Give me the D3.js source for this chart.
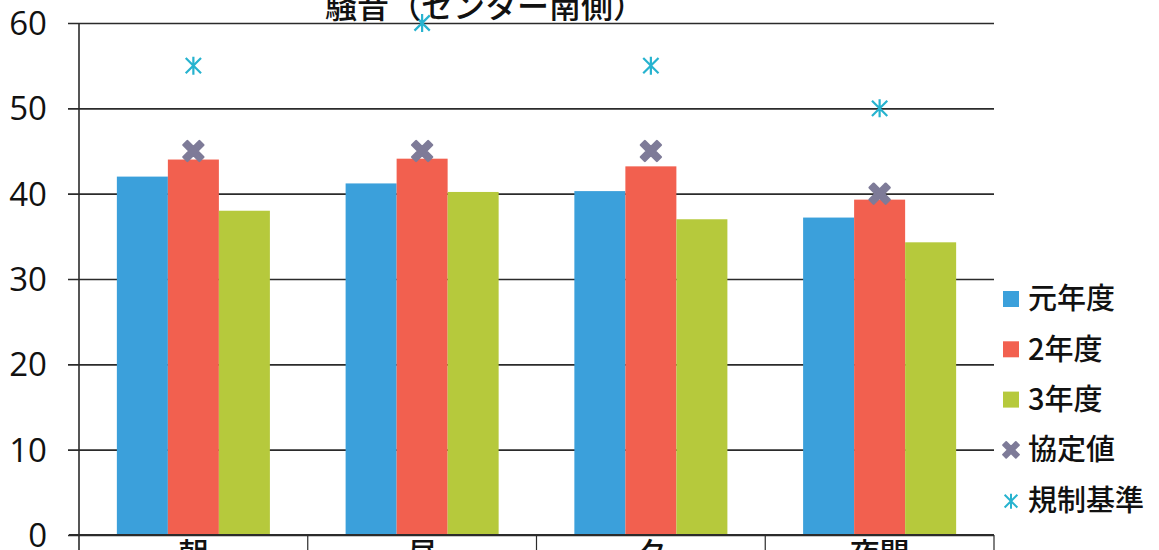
<!DOCTYPE html>
<html>
<head>
<meta charset="utf-8">
<script src="https://cdn.jsdelivr.net/npm/d3@7"></script>
<style>
  html, body { margin: 0; padding: 0; background: #fff; }
  svg { display: block; font-family: "Noto Sans CJK JP", "Noto Sans", sans-serif; }
</style>
</head>
<body>
<svg id="chart" width="1159" height="550"></svg>
<script>
// Noise levels at the south side of the center (dB)
const periods = ["朝", "昼", "夕", "夜間"];
const seriesNames = ["元年度", "2年度", "3年度"];
const year1 = [42.0, 41.2, 40.3, 37.2];
const year2 = [44.0, 44.1, 43.2, 39.3];
const year3 = [38.0, 40.2, 37.0, 34.3];
const agreedValue = [45, 45, 45, 40];
const regulationLimit = [55, 60, 55, 50];
const yTicks = [0, 10, 20, 30, 40, 50, 60];
const titleText = "騒音（センター南側）";
const legendLabels = ["元年度", "2年度", "3年度", "協定値", "規制基準"];

const barColors = ["#3ba0db", "#f2604f", "#b6c93c"];
const agreedColor = "#7e7b98";
const limitColor = "#27b3cf";
const lineColor = "#2b2b2b";

const svg = d3.select("#chart");
const W = 1159, H = 550;
const plot = { left: 79, right: 994, top: 23, bottom: 535 };

const y = d3.scaleLinear().domain([0, 60]).range([plot.bottom, plot.top]);
const x0 = d3.scaleBand().domain(periods).range([plot.left, plot.right])
  .paddingInner(0.331).paddingOuter(0.1655);
const x1 = d3.scaleBand().domain(seriesNames).range([0, x0.bandwidth()]);

const seriesValues = [year1, year2, year3];

// horizontal gridlines with small outward ticks
const yAxis = d3.axisLeft(y).tickValues(yTicks).tickSize(plot.right - plot.left + 11)
  .tickFormat(d => d).tickPadding(21);
const gy = svg.append("g").attr("transform", `translate(${plot.right},0)`).call(yAxis);
gy.select(".domain").remove();
gy.selectAll(".tick line").attr("stroke", lineColor).attr("stroke-width", 1.6);
gy.selectAll(".tick text")
  .attr("fill", "#111").attr("font-size", 33)
  .attr("font-family", "'Open Sans', 'Noto Sans', sans-serif")
  .attr("font-weight", 500)
  .attr("dy", "0.35em");

// vertical axis line
svg.append("line")
  .attr("x1", plot.left).attr("x2", plot.left)
  .attr("y1", plot.top).attr("y2", H)
  .attr("stroke", lineColor).attr("stroke-width", 1.6);

// bars
const groups = svg.append("g").selectAll("g")
  .data(periods).join("g")
  .attr("transform", d => `translate(${x0(d)},0)`);
seriesNames.forEach((name, si) => {
  groups.append("rect")
    .attr("x", x1(name))
    .attr("width", x1.bandwidth())
    .attr("y", (d, i) => y(seriesValues[si][i]))
    .attr("height", (d, i) => y(0) - y(seriesValues[si][i]))
    .attr("fill", barColors[si]);
});

// category axis with dividers between periods
svg.append("line")
  .attr("x1", plot.left - 10).attr("x2", plot.right)
  .attr("y1", plot.bottom).attr("y2", plot.bottom)
  .attr("stroke", lineColor).attr("stroke-width", 1.8);
const dividers = periods.map(p => x0(p) - x0.step() * x0.paddingInner() / 2 + x0.step());
svg.append("g").selectAll("line").data(dividers).join("line")
  .attr("x1", d => d).attr("x2", d => d)
  .attr("y1", plot.bottom).attr("y2", H)
  .attr("stroke", lineColor).attr("stroke-width", 1.2);
svg.append("g").selectAll("text").data(periods).join("text")
  .attr("x", d => x0(d) + x0.bandwidth() / 2)
  .attr("y", 564)
  .attr("text-anchor", "middle")
  .attr("font-size", 30)
  .attr("font-weight", 500)
  .attr("fill", "#111")
  .text(d => d);

// marker shapes
const crossPath = (s) => {
  // fat "X"
  const a = s / 2, t = s * 0.2;
  return `M${-a},${-a + t} L${-a + t},${-a} L0,${-t} L${a - t},${-a} L${a},${-a + t} L${t},0 ` +
         `L${a},${a - t} L${a - t},${a} L0,${t} L${-a + t},${a} L${-a},${a - t} L${-t},0 Z`;
};
const starPath = (s) => {
  const a = s / 2, b = a * 0.85;
  return `M${-b},${-b} L${b},${b} M${-b},${b} L${b},${-b} M0,${-a} L0,${a}`;
};

const cx = d => x0(d) + x0.bandwidth() / 2;

svg.append("g").selectAll("path").data(periods).join("path")
  .attr("transform", (d, i) => `translate(${cx(d)},${y(agreedValue[i])})`)
  .attr("d", crossPath(20))
  .attr("fill", agreedColor)
  .attr("stroke", agreedColor).attr("stroke-width", 2.4).attr("stroke-linejoin", "round");

svg.append("g").selectAll("path").data(periods).join("path")
  .attr("transform", (d, i) => `translate(${cx(d)},${y(regulationLimit[i])})`)
  .attr("d", starPath(18))
  .attr("fill", "none")
  .attr("stroke", limitColor).attr("stroke-width", 2.2);

// title (partly above the visible area)
svg.append("text")
  .attr("x", 325).attr("y", 18)
  .attr("text-anchor", "start")
  .attr("font-size", 32)
  .attr("font-weight", 500)
  .attr("fill", "#111")
  .text(titleText);

// legend
const legend = svg.append("g").attr("transform", "translate(1003,299)");
const rowGap = 50.3;
legendLabels.forEach((label, i) => {
  const g = legend.append("g").attr("transform", `translate(0,${i * rowGap})`);
  if (i < 3) {
    g.append("rect").attr("x", 0).attr("y", -8).attr("width", 16).attr("height", 16)
      .attr("fill", barColors[i]);
  } else if (i === 3) {
    g.append("path").attr("transform", "translate(8,0)").attr("d", crossPath(16))
      .attr("fill", agreedColor).attr("stroke", agreedColor).attr("stroke-width", 1.8)
      .attr("stroke-linejoin", "round");
  } else {
    g.append("path").attr("transform", "translate(8,1)").attr("d", starPath(15))
      .attr("fill", "none").attr("stroke", limitColor).attr("stroke-width", 2);
  }
  g.append("text").attr("x", 25).attr("y", 0).attr("dy", "0.36em")
    .attr("font-size", 29).attr("font-weight", 500).attr("fill", "#111").text(label);
});
</script>
</body>
</html>
